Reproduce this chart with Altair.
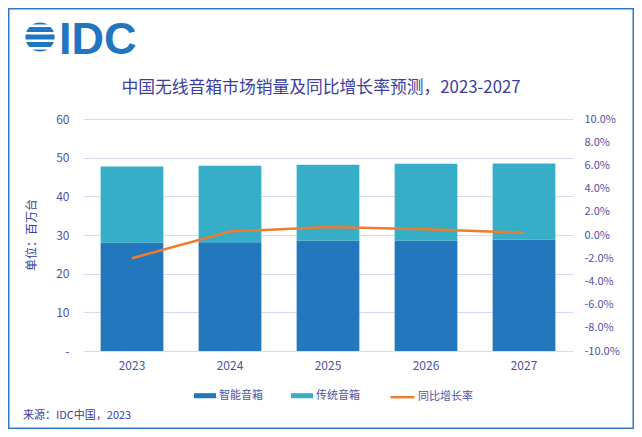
import altair as alt
import pandas as pd

# ---- data ----
years = ["2023", "2024", "2025", "2026", "2027"]
smart = [28.0, 28.1, 28.5, 28.6, 28.8]          # 智能音箱 (百万台)
traditional = [19.7, 19.8, 19.7, 19.8, 19.7]    # 传统音箱 (百万台)
growth = [-0.020, 0.003, 0.007, 0.005, 0.002]   # 同比增长率
series_names = ["智能音箱", "传统音箱"]
line_name = "同比增长率"
left_ticks = [0, 10, 20, 30, 40, 50, 60]
right_ticks = [-0.10, -0.08, -0.06, -0.04, -0.02, 0.0, 0.02, 0.04, 0.06, 0.08, 0.10]
title_text = "中国无线音箱市场销量及同比增长率预测，2023-2027"
source_text = "来源：IDC中国，2023"
yaxis_title = "单位：百万台"
logo_text = "IDC"

rows = []
for i, y in enumerate(years):
    rows.append({"year": y, "series": series_names[0], "value": smart[i], "order": 0})
    rows.append({"year": y, "series": series_names[1], "value": traditional[i], "order": 1})
bars_df = pd.DataFrame(rows)
line_df = pd.DataFrame({"year": years, "rate": growth, "name": [line_name] * len(years)})

# ---- style ----
W, H = 490, 232
FONT = "Noto Sans CJK SC"
TXT = "#3b3d9c"
LBL = "#4f52a8"
GRID = "#d9d9f0"
BLUE = "#2377bd"
TEAL = "#36aec7"
ORANGE = "#ed7d31"
LOGO = "#1f76c2"

x_enc = alt.X(
    "year:N", sort=years,
    scale=alt.Scale(paddingInner=0.36, paddingOuter=0.18),
    axis=alt.Axis(title=None, labelAngle=0, domain=False, ticks=False, labelPadding=9,
                  labelFont=FONT, labelFontSize=12, labelColor=LBL),
)

bars = alt.Chart(bars_df).mark_bar().encode(
    x=x_enc,
    y=alt.Y("value:Q", stack="zero",
            scale=alt.Scale(domain=[0, 60], nice=False),
            axis=alt.Axis(values=left_ticks, title=None, domain=False, ticks=False, grid=True,
                          gridColor=GRID, gridWidth=1.2, labelPadding=14,
                          labelFont=FONT, labelFontSize=12, labelColor=LBL,
                          labelExpr="datum.value == 0 ? '-\u00a0\u00a0' : datum.label")),
    color=alt.Color("series:N",
                    scale=alt.Scale(domain=series_names, range=[BLUE, TEAL]),
                    legend=alt.Legend(title=None, orient="none", legendX=111, legendY=265.7,
                                      direction="horizontal", columns=2,
                                      symbolType="M-1,-0.23H1V0.23H-1Z", symbolSize=484,
                                      symbolStrokeWidth=0, labelOffset=3, columnPadding=28,
                                      padding=0, labelFont=FONT, labelFontSize=11,
                                      labelColor=LBL)),
    order=alt.Order("order:Q", sort="ascending"),
)

line = alt.Chart(line_df).mark_line(strokeWidth=2.5).encode(
    x=x_enc,
    y=alt.Y("rate:Q",
            scale=alt.Scale(domain=[-0.1, 0.1], nice=False),
            axis=alt.Axis(orient="right", values=right_ticks, format=".1%", title=None,
                          grid=False, domain=False, ticks=False, labelPadding=11,
                          labelFont=FONT, labelFontSize=11, labelColor=LBL,
                          labelExpr="replace(datum.label, '\u2212', '-')")),
    stroke=alt.Stroke("name:N",
                      scale=alt.Scale(domain=[line_name], range=[ORANGE]),
                      legend=alt.Legend(title=None, orient="none", legendX=306, legendY=264.7,
                                        symbolType="stroke", symbolSize=576,
                                        symbolStrokeWidth=2.5, labelOffset=2, padding=0,
                                        labelFont=FONT, labelFontSize=11, labelColor=LBL)),
)

one = pd.DataFrame({"k": [0]})

title = alt.Chart(pd.DataFrame({"t": [title_text]})).mark_text(
    font=FONT, fontSize=16.8, color=TXT, align="center", baseline="middle"
).encode(text="t:N", x=alt.value(238), y=alt.value(-31.5))

source = alt.Chart(pd.DataFrame({"t": [source_text]})).mark_text(
    font=FONT, fontSize=11, color=TXT, align="left", baseline="middle"
).encode(text="t:N", x=alt.value(-60), y=alt.value(297))

ytitle = alt.Chart(pd.DataFrame({"t": [yaxis_title]})).mark_text(
    font=FONT, fontSize=12, color=TXT, align="center", baseline="middle", angle=270
).encode(text="t:N", x=alt.value(-51), y=alt.value(116))

logo_txt = alt.Chart(pd.DataFrame({"t": [logo_text]})).mark_text(
    font="Liberation Sans", fontWeight="bold", fontSize=45, color=LOGO,
    align="left", baseline="alphabetic"
).encode(text="t:N", x=alt.value(-24), y=alt.value(-65))

globe = alt.Chart(one).mark_point(shape="circle", filled=True, size=855, color=LOGO,
                                  opacity=1).encode(x=alt.value(-43), y=alt.value(-82))

stripes = []
for off in [-11.2, -3.7, 3.7, 11.2]:
    stripes.append(
        alt.Chart(one).mark_rule(color="white", strokeWidth=2.4).encode(
            x=alt.value(-62), x2=alt.value(-24), y=alt.value(-82 + off)))

border = alt.Chart(one).mark_rect(fillOpacity=0, stroke="#2e7bc4", strokeWidth=1.5).encode(
    x=alt.value(-74.25), x2=alt.value(550.25), y=alt.value(-110.25), y2=alt.value(309.25))

chart = alt.layer(
    bars, line, title, source, ytitle, globe, *stripes, logo_txt, border
).resolve_scale(y="independent").properties(
    width=W, height=H,
    autosize=alt.AutoSizeParams(type="none"),
    padding={"left": 75, "top": 111, "right": 61, "bottom": 78},
    background="white",
).configure_view(strokeWidth=0)

chart.save("out.html", embed_options={"renderer": "svg", "actions": False})
